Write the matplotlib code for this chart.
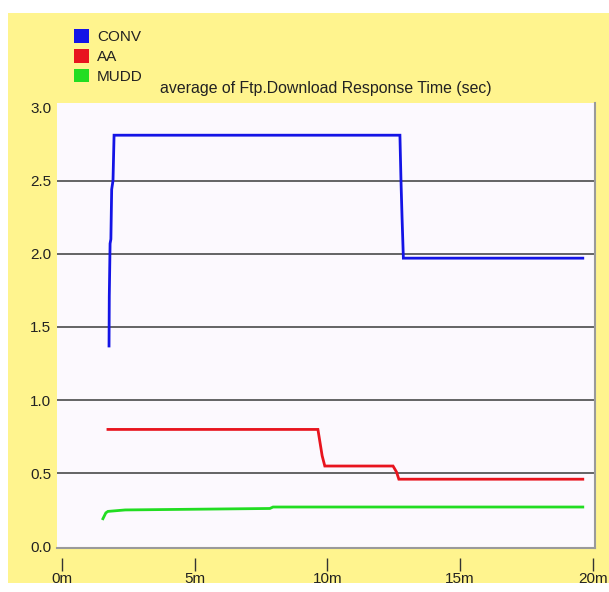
import matplotlib
matplotlib.use("Agg")
import matplotlib.pyplot as plt
from matplotlib.patches import Rectangle, Patch

# Response time series (minutes -> seconds)
conv_t = [1.77, 1.78, 1.81, 1.84, 1.87, 1.92, 1.96, 12.73, 12.77, 12.81, 12.86, 19.62]
conv_v = [1.37, 1.71, 2.07, 2.10, 2.44, 2.50, 2.81, 2.81, 2.50, 2.25, 1.97, 1.97]

aa_t = [1.73, 9.64, 9.80, 9.90, 12.47, 12.60, 12.69, 19.62]
aa_v = [0.80, 0.80, 0.62, 0.55, 0.55, 0.51, 0.46, 0.46]

mudd_t = [1.54, 1.65, 1.73, 2.38, 7.83, 7.95, 19.62]
mudd_v = [0.19, 0.23, 0.24, 0.25, 0.26, 0.27, 0.27]

series_names = ["CONV", "AA", "MUDD"]
series_colors = ["#1414E6", "#E8141E", "#22DD22"]

y_ticks = [0.0, 0.5, 1.0, 1.5, 2.0, 2.5, 3.0]
x_ticks = [0, 5, 10, 15, 20]
x_tick_labels = ["0m", "5m", "10m", "15m", "20m"]
title = "average of Ftp.Download Response Time (sec)"

W, H = 609, 592
fig = plt.figure(figsize=(W / 100, H / 100), dpi=100, facecolor="white")
plt.rcParams["font.family"] = ["Liberation Sans", "DejaVu Sans"]

yellow = "#FFF48E"
fig.patches.append(Rectangle((8 / W, 1 - 583 / H), 1 - 8 / W, (583 - 13) / H,
                             transform=fig.transFigure, facecolor=yellow,
                             edgecolor="none", zorder=-5))

ax = fig.add_axes([57 / W, 1 - 548 / H, 538 / W, 445 / H])
ax.set_zorder(2)
ax.set_facecolor("#FCF9FE")
ax.set_xlim(-0.19, 20.08)
ax.set_ylim(-0.01, 3.03)

for v in y_ticks[1:-1]:
    ax.axhline(v, color="#4A4A4A", lw=1.2, zorder=1)

for t, v, c, n in zip([conv_t, aa_t, mudd_t], [conv_v, aa_v, mudd_v],
                      series_colors, series_names):
    ax.plot(t, v, color=c, lw=2.0, zorder=3, label=n, solid_joinstyle="miter")

# frame: grey right and bottom edges only
for s in ["left", "top"]:
    ax.spines[s].set_visible(False)
ax.spines["right"].set_color("#9A9A9A")
ax.spines["right"].set_linewidth(1.5)
ax.plot([0, 1], [0, 0], transform=ax.transAxes, color="#9A9A9A", lw=1.5,
        clip_on=False, zorder=4)
ax.spines["bottom"].set_position(("outward", 7))
ax.spines["bottom"].set_color("none")

ax.set_yticks(y_ticks)
ax.set_yticklabels([f"{v:.1f}" for v in y_ticks])
ax.set_xticks(x_ticks)
ax.set_xticklabels(x_tick_labels)
ax.tick_params(axis="y", length=0, pad=4, labelsize=11, labelcolor="#222222")
ax.tick_params(axis="x", length=9.5, width=1.0, color="#333333", direction="out",
               pad=1, labelsize=11, labelcolor="#222222")

fig.text(326 / W, 1 - 89 / H, title, ha="center", va="center",
         fontsize=11.4, color="#222222")

handles = [Patch(facecolor=c, edgecolor="none") for c in series_colors]
fig.legend(handles, series_names, loc="upper left",
           bbox_to_anchor=(62 / W, 1 - 17 / H), frameon=False,
           fontsize=11, handlelength=1.0, handleheight=1.0,
           handletextpad=0.5, labelspacing=0.3, borderpad=0.3,
           labelcolor="#222222")

fig.savefig("out.png", dpi=100, facecolor="white")
